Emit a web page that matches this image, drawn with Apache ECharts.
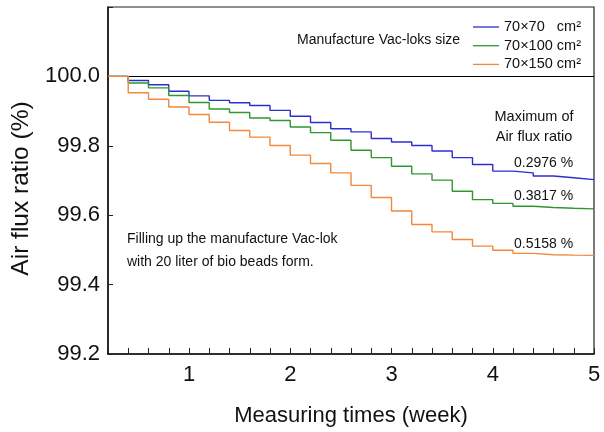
<!DOCTYPE html>
<html>
<head>
<meta charset="utf-8">
<script src="https://cdn.jsdelivr.net/npm/echarts@6/dist/echarts.min.js"></script>
<style>
  html, body { margin: 0; padding: 0; background: #fff; }
  #chart { width: 604px; height: 432px; }
</style>
</head>
<body>
<div id="chart"></div>
<script>
// 测量周数（每 0.2 周一个阶梯）
const weeks = [0.2, 0.4, 0.6, 0.8, 1.0, 1.2, 1.4, 1.6, 1.8, 2.0, 2.2, 2.4, 2.6,
  2.8, 3.0, 3.2, 3.4, 3.6, 3.8, 4.0, 4.2, 4.4, 4.6, 4.8, 5.0];

const seriesNames = ['70×70   cm²', '70×100 cm²', '70×150 cm²'];
const seriesColors = ['#2e2ed0', '#2f972f', '#f2883c'];

// Air flux ratio (%)
const ratio70x70 = [100, 99.988, 99.976, 99.957, 99.944, 99.931, 99.924, 99.916,
  99.902, 99.885, 99.867, 99.849, 99.840, 99.821, 99.811, 99.801, 99.785, 99.766,
  99.746, 99.727, 99.722, 99.713, 99.708, 99.7024, 99.7024];
const ratio70x100 = [100, 99.981, 99.967, 99.945, 99.925, 99.906, 99.896, 99.880,
  99.873, 99.854, 99.838, 99.816, 99.787, 99.766, 99.741, 99.719, 99.701, 99.669,
  99.645, 99.634, 99.626, 99.622, 99.620, 99.6183, 99.6183];
const ratio70x150 = [100, 99.953, 99.934, 99.912, 99.890, 99.868, 99.844, 99.825,
  99.801, 99.773, 99.749, 99.722, 99.686, 99.651, 99.612, 99.573, 99.552, 99.530,
  99.511, 99.499, 99.490, 99.486, 99.485, 99.4842, 99.4842];

const maxLoss = ['0.2976 %', '0.3817 %', '0.5158 %'];

const FONT = 'Liberation Sans, Arial, sans-serif';
const TXT = '#111';

const chart = echarts.init(document.getElementById('chart'));

const allSeries = [ratio70x70, ratio70x100, ratio70x150].map((vals, i) => ({
  name: seriesNames[i],
  type: 'line',
  step: 'end',
  showSymbol: false,
  symbol: 'none',
  data: weeks.map((w, k) => [w, vals[k]]),
  lineStyle: { color: seriesColors[i], width: 1.4 },
  itemStyle: { color: seriesColors[i] },
  z: 3 + i
}));

// 100.0 基准线
allSeries[0].markLine = {
  silent: true,
  symbol: 'none',
  label: { show: false },
  lineStyle: { color: '#000', width: 1.2, type: 'solid' },
  data: [{ yAxis: 100 }],
  z: 1
};

chart.setOption({
  animation: false,
  grid: {
    left: 108, right: 10, top: 7, bottom: 78,
    show: true, borderColor: '#222', borderWidth: 1.2
  },
  legend: {
    orient: 'vertical',
    left: 468,
    top: 14,
    icon: 'rect',
    itemWidth: 26,
    itemHeight: 1.3,
    itemGap: 2.7,
    textStyle: { fontFamily: FONT, fontSize: 14.5, color: TXT, lineHeight: 16 },
    data: seriesNames
  },
  xAxis: {
    type: 'value',
    min: 0.2,
    max: 5,
    interval: 0.2,
    name: 'Measuring times (week)',
    nameLocation: 'middle',
    nameGap: 51,
    nameTextStyle: { fontFamily: FONT, fontSize: 22, color: TXT },
    axisLine: { lineStyle: { color: '#111', width: 1.5 } },
    axisTick: { inside: true, length: 6, lineStyle: { color: '#222' } },
    splitLine: { show: false },
    axisLabel: {
      fontFamily: FONT, fontSize: 22, color: TXT, margin: 10,
      formatter: v => Math.abs(v - Math.round(v)) < 1e-6 ? String(Math.round(v)) : ''
    }
  },
  yAxis: {
    type: 'value',
    min: 99.2,
    max: 100.2,
    interval: 0.2,
    name: 'Air flux ratio (%)',
    nameLocation: 'middle',
    nameGap: 72,
    nameTextStyle: { fontFamily: FONT, fontSize: 24.5, color: TXT, padding: [0, 16, 0, 0] },
    axisLine: { show: true, lineStyle: { color: '#111', width: 1.5 } },
    axisTick: { show: true, inside: true, length: 5, lineStyle: { color: '#222' } },
    splitLine: { show: false },
    axisLabel: {
      fontFamily: FONT, fontSize: 22, color: TXT, margin: 8,
      formatter: v => v > 100.05 ? '' : v.toFixed(1)
    }
  },
  graphic: [
    { type: 'text', left: 297, top: 33,
      style: { text: 'Manufacture Vac-loks size', font: '14px ' + FONT, fill: TXT } },
    { type: 'text', x: 534, y: 117, style: { text: 'Maximum of', font: '14.5px ' + FONT,
      fill: TXT, align: 'center', verticalAlign: 'middle' } },
    { type: 'text', x: 534, y: 137, style: { text: 'Air flux ratio', font: '14.5px ' + FONT,
      fill: TXT, align: 'center', verticalAlign: 'middle' } },
    { type: 'text', x: 514, y: 163, style: { text: maxLoss[0], font: '14px ' + FONT,
      fill: TXT, verticalAlign: 'middle' } },
    { type: 'text', x: 514, y: 196, style: { text: maxLoss[1], font: '14px ' + FONT,
      fill: TXT, verticalAlign: 'middle' } },
    { type: 'text', x: 514, y: 244, style: { text: maxLoss[2], font: '14px ' + FONT,
      fill: TXT, verticalAlign: 'middle' } },
    { type: 'text', x: 127, y: 239, style: { text: 'Filling up the manufacture Vac-lok',
      font: '14px ' + FONT, fill: TXT, verticalAlign: 'middle' } },
    { type: 'text', x: 127, y: 262, style: { text: 'with 20 liter of bio beads form.',
      font: '14px ' + FONT, fill: TXT, verticalAlign: 'middle' } }
  ],
  series: allSeries
});
</script>
</body>
</html>
